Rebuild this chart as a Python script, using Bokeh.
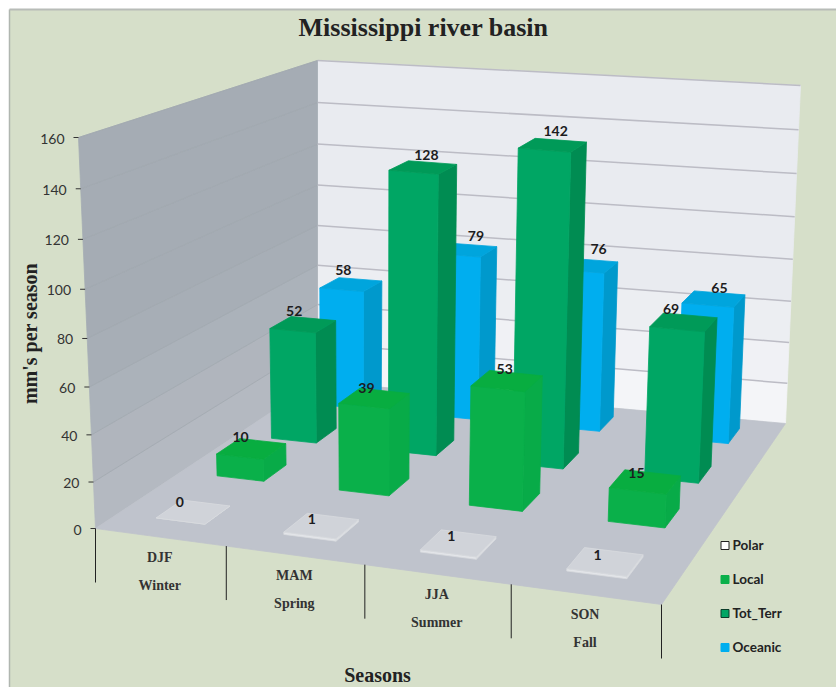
import numpy as np
from bokeh.plotting import figure
from bokeh.models import Range1d
from bokeh.core.properties import value
from bokeh.embed import file_html
from bokeh.resources import INLINE

# ---- data
categories = ["DJF", "MAM", "JJA", "SON"]
seasons = ["Winter", "Spring", "Summer", "Fall"]
series_names = ["Polar", "Local", "Tot_Terr", "Oceanic"]
polar = [0, 1, 1, 1]
local = [10, 39, 53, 15]
tot_terr = [52, 128, 142, 69]
oceanic = [58, 79, 76, 65]
y_ticks = [0, 20, 40, 60, 80, 100, 120, 140, 160]
y_max = 160
title = "Mississippi river basin"
y_title = "mm's per season"
x_title = "Seasons"

series_values = [polar, local, tot_terr, oceanic]

# ---- style
front_c = ["#e3e5e9", "#0ab04a", "#00a664", "#00aeef"]
side_c = ["#dcdee2", "#08ab48", "#008c52", "#0099cc"]
top_c = ["#d0d3d9", "#08ad40", "#009a58", "#00a5dd"]
swatch_c = ["#ffffff", "#0ab04a", "#00a664", "#00aeef"]
swatch_line = ["#222222", "#0ab04a", "#0b3d2a", "#00aeef"]
label_dx = [[-26, -21, -17, -16], [-22, -18, -11, -16], [-19, -6, -5, -19], [-17, 2, 5, 0]]
label_dy = [[-1, 3, 3, 4], [-4, -3, -4, 0], [-8, -8, -9, -6], [-9, -9, -11, -5]]
BAR_U = 0.39
BAR_V = 0.41
ROW_CENTER = 0.55
CATEGORY_EDGES = [0, 0.257, 0.511, 0.761, 1]

# ---- floor: projective map of the unit square, walls: lean and height at the corners
fA, fB, fC, fD = (95, 528), (661, 604), (785, 423), (317, 381)
vA, vB, vC, vD = (-17, -391), (18, -400), (15, -338), (0, -321)
dx1, dx2, sx = fB[0] - fC[0], fD[0] - fC[0], fA[0] - fB[0] + fC[0] - fD[0]
dy1, dy2, sy = fB[1] - fC[1], fD[1] - fC[1], fA[1] - fB[1] + fC[1] - fD[1]
det = dx1 * dy2 - dx2 * dy1
g = (sx * dy2 - dx2 * sy) / det
h = (dx1 * sy - sx * dy1) / det


def proj(u, v, val):
    d = 1 + g * u + h * v
    fx = (fA[0] + (fB[0] * (1 + g) - fA[0]) * u + (fD[0] * (1 + h) - fA[0]) * v) / d
    fy = (fA[1] + (fB[1] * (1 + g) - fA[1]) * u + (fD[1] * (1 + h) - fA[1]) * v) / d
    w = val / y_max
    w = w * (1 - 0.056 * (1 - w))
    lx = (1 - u) * ((1 - v) * vA[0] + v * vD[0]) + u * ((1 - v) * vB[0] + v * vC[0])
    ly = (1 - u) * ((1 - v) * vA[1] + v * vD[1]) + u * ((1 - v) * vB[1] + v * vC[1])
    return fx + w * lx, fy + w * ly


polys_x, polys_y, fills, lines = [], [], [], []


def add_poly(pts, fill, line=None):
    polys_x.append([q[0] for q in pts])
    polys_y.append([q[1] for q in pts])
    fills.append(fill)
    lines.append(line or fill)


def mix(a, b, t):
    ca = [int(a[i:i + 2], 16) for i in (1, 3, 5)]
    cb = [int(b[i:i + 2], 16) for i in (1, 3, 5)]
    return "#%02x%02x%02x" % tuple(int(round(x + (y - x) * t)) for x, y in zip(ca, cb))


for k in range(len(y_ticks) - 1):
    a, b = y_ticks[k], y_ticks[k + 1]
    t = k / (len(y_ticks) - 2)
    add_poly([proj(0, 1, a), proj(1, 1, a), proj(1, 1, b), proj(0, 1, b)], mix("#f4f5f8", "#e9ebf0", min(1, t * 2.5)))
    add_poly([proj(0, 0, a), proj(0, 1, a), proj(0, 1, b), proj(0, 0, b)], mix("#b4b9c1", "#a5acb4", min(1, t * 2)))
add_poly([proj(0, 0, 0), proj(1, 0, 0), proj(1, 1, 0), proj(0, 1, 0)], "#bfc3cc")

p = figure(width=836, height=687, x_range=Range1d(0, 836), y_range=Range1d(687, 0),
           output_backend="svg", toolbar_location=None, min_border=0,
           background_fill_color="#ffffff", border_fill_color="#ffffff", outline_line_color=None)
p.xaxis.visible = False
p.yaxis.visible = False
p.grid.visible = False

p.quad(left=[9], right=[836], top=[9], bottom=[687], fill_color="#d6dfc9", line_color=None)
p.line([9, 9], [687, 9], line_color="#b0b6b0", line_width=1.5)
p.line([9, 836], [9, 9], line_color="#b8bcb8", line_width=2)

p.patches(polys_x, polys_y, fill_color=fills, line_color=lines, line_width=0.8)

for t in y_ticks[1:]:
    x0, y0 = proj(0, 1, t)
    x1, y1 = proj(1, 1, t)
    p.line([x0, x1], [y0, y1], line_color="#bcbcc5", line_width=1.5)
    xa, ya = proj(0, 0, t)
    p.line([xa, x0], [ya, y0], line_color="#a0a7af", line_width=0.7)

bx, by, bf, bl = [], [], [], []
lab_x, lab_y, lab_t = [], [], []
m = len(series_values)
n = len(categories)
for j in range(m - 1, -1, -1):
    vals = series_values[j]
    v0 = (j + ROW_CENTER - BAR_V / 2) / m
    v1 = (j + ROW_CENTER + BAR_V / 2) / m
    for i in range(n):
        u0 = (i + 0.5 - BAR_U / 2) / n
        u1 = (i + 0.5 + BAR_U / 2) / n
        b = vals[i]
        side = [proj(u1, v0, 0), proj(u1, v1, 0), proj(u1, v1, b), proj(u1, v0, b)]
        front = [proj(u0, v0, 0), proj(u1, v0, 0), proj(u1, v0, b), proj(u0, v0, b)]
        top = [proj(u0, v0, b), proj(u1, v0, b), proj(u1, v1, b), proj(u0, v1, b)]
        edge = "#d8dade" if j == 0 else None
        for poly, col in ((side, side_c[j]), (front, front_c[j]), (top, top_c[j])):
            bx.append([q[0] for q in poly])
            by.append([q[1] for q in poly])
            bf.append(col)
            bl.append(edge or col)
        cx, cy = proj((u0 + u1) / 2, v1, b)
        lab_x.append(cx + label_dx[j][i])
        lab_y.append(cy + label_dy[j][i])
        lab_t.append(str(b))
p.patches(bx, by, fill_color=bf, line_color=bl, line_width=0.8)

p.text(lab_x, lab_y, text=lab_t, text_font=value("Lato"), text_font_style="bold",
       text_font_size="14px", text_color="#1c1c20", text_align="center", text_baseline="middle")

tick_x, tick_y, tick_t = [], [], []
for t in y_ticks:
    x0, y0 = proj(0, 0, t)
    p.line([x0 - 5, x0], [y0, y0], line_color="#333333", line_width=1)
    tick_x.append(x0 - 14)
    tick_y.append(y0 + 1)
    tick_t.append(str(t))
p.text(tick_x, tick_y, text=tick_t, text_font=value("Lato"), text_font_size="14px",
       text_color="#333333", text_align="right", text_baseline="middle")

for e in CATEGORY_EDGES:
    x0, y0 = proj(e, 0, 0)
    p.line([x0, x0], [y0, y0 + 54], line_color="#222222", line_width=1)
cx, cy1, cy2 = [], [], []
for i in range(n):
    x0, y0 = proj((CATEGORY_EDGES[i] + CATEGORY_EDGES[i + 1]) / 2, 0, 0)
    cx.append(x0)
    cy1.append(y0 + 20)
    cy2.append(y0 + 48)
p.text(cx, cy1, text=categories, text_font=value("Liberation Serif"), text_font_style="bold",
       text_font_size="14px", text_color="#333333", text_align="center", text_baseline="middle")
p.text(cx, cy2, text=seasons, text_font=value("Liberation Serif"), text_font_style="bold",
       text_font_size="14px", text_color="#333333", text_align="center", text_baseline="middle")

p.text([423], [27], text=[title], text_font=value("Liberation Serif"), text_font_style="bold",
       text_font_size="26px", text_color="#222222", text_align="center", text_baseline="middle")
p.text([29], [333], text=[y_title], angle=[np.pi / 2], text_font=value("Liberation Serif"),
       text_font_style="bold", text_font_size="20px", text_color="#222222",
       text_align="center", text_baseline="middle")
p.text([377], [674], text=[x_title], text_font=value("Liberation Serif"), text_font_style="bold",
       text_font_size="20px", text_color="#222222", text_align="center", text_baseline="middle")

leg_y = [545, 579, 613, 647]
p.rect([724.5] * 4, leg_y, width=8, height=8, fill_color=swatch_c, line_color=swatch_line, line_width=1)
p.text([732] * 4, [y - 1 for y in leg_y], text=series_names, text_font=value("Lato"), text_font_style="bold",
       text_font_size="13.5px", text_color="#222222", text_align="left", text_baseline="middle")

open("out.html", "w").write(file_html(p, INLINE))
